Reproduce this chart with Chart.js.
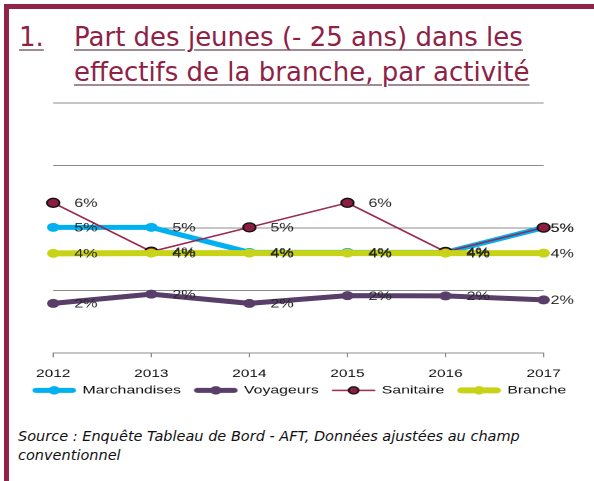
<!DOCTYPE html>
<html><head><meta charset="utf-8">
<script src="https://cdn.jsdelivr.net/npm/chart.js@4.4.1/dist/chart.umd.min.js"></script>
<style>
html,body{margin:0;padding:0;background:#fff;width:594px;height:481px;overflow:hidden;position:relative}
#frameTop{position:absolute;left:4px;top:4px;width:590px;height:5px;background:#902347}
#frameLeft{position:absolute;left:4px;top:4px;width:5px;height:477px;background:#902347}
.ttl{position:absolute;top:20px;font-family:'DejaVu Sans';font-size:26px;line-height:35px;color:#8E2246;text-decoration:underline;text-decoration-color:#a08a94;text-decoration-thickness:2px;text-underline-offset:3px;white-space:nowrap}
#src{position:absolute;left:18px;top:427px;font-family:'DejaVu Sans';font-style:italic;font-size:14.5px;line-height:18.5px;color:#111;white-space:nowrap}
#wrap{position:absolute;left:0;top:95px;width:424px;height:311px;transform:scaleX(1.401);transform-origin:0 0}
</style></head><body>
<div id="frameTop"></div><div id="frameLeft"></div>
<div class="ttl" style="left:19px">1.</div>
<div class="ttl" style="left:74px">Part des jeunes (- 25 ans) dans les<br>effectifs de la branche, par activité</div>
<div id="wrap"><canvas id="c"></canvas></div>
<div id="src">Source : Enquête Tableau de Bord - AFT, Données ajustées au champ<br>conventionnel</div>
<script>
const categories = ['2012','2013','2014','2015','2016','2017'];
const seriesNames = ['Marchandises','Voyageurs','Sanitaire','Branche'];
const marchandises = [5.03, 5.03, 4.03, 4.03, 4.03, 5.02];
const voyageurs    = [1.99, 2.36, 1.99, 2.30, 2.29, 2.13];
const sanitaire    = [6.01, 4.06, 5.03, 6.01, 4.05, 5.02];
const branche      = [3.99, 4.00, 4.00, 4.00, 4.00, 4.00];
const yTicks = [0, 2.5, 5, 7.5, 10];

const FONT = '"Liberation Sans", Arial, sans-serif';
const styles = [
  {line:'#00B0F0', lw:5, fill:'#00B0F0', border:'#00B0F0', bw:0, order:4},
  {line:'#583E68', lw:5, fill:'#583E68', border:'#583E68', bw:0, order:3},
  {line:'#9B2650', lw:1.5, fill:'#8C1C40', border:'#111111', bw:1.3, order:2},
  {line:'#C8D317', lw:6, fill:'#C8D317', border:'#C8D317', bw:0, order:1}
];
const seriesData = [marchandises, voyageurs, sanitaire, branche];

// legend sample image: 43.25 wide, the visible 32.5px sample sits at its right end
const IMG_W = 43.25, SAMPLE_W = 32.5;
function makeSample(s){
  return new Promise(res=>{
    const cv = document.createElement('canvas');
    cv.width = Math.round(IMG_W*2); cv.height = 20;
    const c = cv.getContext('2d');
    c.scale(2,2);
    const x0 = IMG_W - SAMPLE_W, x1 = IMG_W;
    c.strokeStyle = s.line; c.lineWidth = s.lw; c.lineCap = 'round';
    c.beginPath(); c.moveTo(x0 + s.lw/2 + 0.5, 5); c.lineTo(x1 - s.lw/2 - 0.5, 5); c.stroke();
    c.beginPath(); c.arc((x0 + x1)/2, 5, s.bw ? 3.6 : 4.2, 0, Math.PI*2);
    c.fillStyle = s.fill; c.fill();
    if (s.bw){ c.lineWidth = s.bw; c.strokeStyle = s.border; c.stroke(); }
    const img = new Image(IMG_W,10);
    img.onload = ()=>res(img);
    img.src = cv.toDataURL();
  });
}

const labelPlugin = {
  id:'vlabels',
  afterDatasetsDraw(chart){
    const ctx = chart.ctx; ctx.save();
    ctx.font = '11.5px ' + FONT;
    ctx.fillStyle = '#262626'; ctx.textBaseline = 'middle'; ctx.textAlign = 'left';
    chart.data.datasets.forEach((ds, di) => {
      const meta = chart.getDatasetMeta(di);
      meta.data.forEach((pt, i) => {
        const last = i === meta.data.length - 1;
        ctx.fillText(Math.round(ds.data[i]) + '%', pt.x + (last ? 5 : 15), pt.y + 1);
      });
    });
    ctx.restore();
  }
};

Promise.all(styles.map(makeSample)).then(samples => {
  new Chart(document.getElementById('c'), {
    type:'line',
    data:{
      labels: categories,
      datasets: seriesNames.map((n,i)=>({
        label:n, data:seriesData[i], order:styles[i].order, yAxisID:'y',
        borderColor:styles[i].line, backgroundColor:styles[i].fill,
        borderWidth:styles[i].lw, borderCapStyle:'round', borderJoinStyle:'round',
        pointRadius:4.5, pointBackgroundColor:styles[i].fill,
        pointBorderColor:styles[i].border, pointBorderWidth:styles[i].bw,
        tension:0, clip:false
      }))
    },
    options:{
      responsive:true, maintainAspectRatio:false, animation:false, devicePixelRatio:2,
      layout:{padding:{top:8,left:0,right:6,bottom:0}},
      plugins:{
        tooltip:{enabled:false},
        legend:{
          position:'bottom',
          labels:{
            usePointStyle:true, pointStyleWidth:39.35, boxHeight:10, padding:0,
            color:'#111', font:{size:11.3, family:FONT},
            generateLabels:(chart)=>chart.data.datasets.map((ds,i)=>({
              text:ds.label, datasetIndex:i, pointStyle:samples[i],
              fillStyle:'transparent', strokeStyle:'transparent', lineWidth:0, hidden:false, fontColor:'#111'
            }))
          }
        }
      },
      scales:{
        x:{
          offset:false,
          afterFit:s=>{ s.height = 31.5; },
          grid:{display:true, drawOnChartArea:false, drawTicks:true, tickLength:4, color:'#8c8c8c'},
          border:{color:'#8c8c8c', width:1},
          ticks:{color:'#111', font:{size:11, family:FONT}, padding:10, maxRotation:0, autoSkip:false}
        },
        y:{
          min:0, max:10,
          afterFit:s=>{ s.width = 38; },
          afterBuildTicks:s=>{ s.ticks = yTicks.map(v=>({value:v})); },
          ticks:{display:false},
          grid:{color:'#8c8c8c', drawTicks:false},
          border:{display:false}
        },
        yR:{
          type:'linear', position:'right', min:0, max:10,
          afterFit:s=>{ s.width = 30; },
          ticks:{display:false},
          grid:{display:false, drawTicks:false},
          border:{display:false}
        }
      }
    },
    plugins:[labelPlugin]
  });
});
</script>
</body></html>
